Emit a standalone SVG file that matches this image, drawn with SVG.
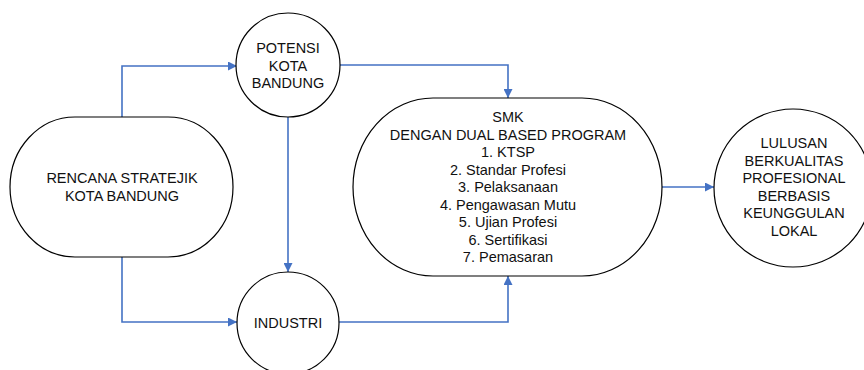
<svg xmlns="http://www.w3.org/2000/svg" width="864" height="370" viewBox="0 0 864 370">
<style>
.n{fill:#fff;stroke:#000;stroke-width:1.2}
.t{font-family:"Liberation Sans",Arial,sans-serif;font-size:14.5px;fill:#111;text-anchor:middle}
.c{fill:none;stroke:#4472C4;stroke-width:1.6}
</style>
<defs>
<marker id="ah" viewBox="0 0 10 10" refX="10" refY="5" markerWidth="9" markerHeight="9" markerUnits="userSpaceOnUse" orient="auto">
<path d="M0,0 L10,5 L0,10 Z" fill="#4472C4"/>
</marker>
</defs>
<rect width="864" height="370" fill="#fff"/>
<g id="connectors">
<path class="c" d="M122,117 V66 H237" marker-end="url(#ah)"/>
<path class="c" d="M339,65 H508 V98" marker-end="url(#ah)"/>
<path class="c" d="M288,117 V272" marker-end="url(#ah)"/>
<path class="c" d="M122,257 V322 H237" marker-end="url(#ah)"/>
<path class="c" d="M339,322 H508 V276" marker-end="url(#ah)"/>
<path class="c" d="M662,187 H714" marker-end="url(#ah)"/>
</g>
<g id="rencana">
<rect class="n" x="10" y="117" width="223" height="140" rx="65" ry="70"/>
<text class="t" x="122" y="183">RENCANA STRATEJIK</text>
<text class="t" x="122" y="200.5">KOTA BANDUNG</text>
</g>
<g id="potensi">
<circle class="n" cx="288" cy="65" r="52"/>
<text class="t" x="288" y="53">POTENSI</text>
<text class="t" x="288" y="70.5">KOTA</text>
<text class="t" x="288" y="88">BANDUNG</text>
</g>
<g id="industri">
<circle class="n" cx="288" cy="323" r="51"/>
<text class="t" x="288" y="328">INDUSTRI</text>
</g>
<g id="smk">
<rect class="n" x="353" y="98" width="309" height="178" rx="80" ry="89"/>
<text class="t" x="508" y="122">SMK</text>
<text class="t" x="508" y="139.5">DENGAN DUAL BASED PROGRAM</text>
<text class="t" x="508" y="157">1. KTSP</text>
<text class="t" x="508" y="174.5">2. Standar Profesi</text>
<text class="t" x="508" y="192">3. Pelaksanaan</text>
<text class="t" x="508" y="209.5">4. Pengawasan Mutu</text>
<text class="t" x="508" y="227">5. Ujian Profesi</text>
<text class="t" x="508" y="244.5">6. Sertifikasi</text>
<text class="t" x="508" y="262">7. Pemasaran</text>
</g>
<g id="lulusan">
<circle class="n" cx="793" cy="188" r="79"/>
<text class="t" x="794" y="148">LULUSAN</text>
<text class="t" x="794" y="165.5">BERKUALITAS</text>
<text class="t" x="794" y="183">PROFESIONAL</text>
<text class="t" x="794" y="200.5">BERBASIS</text>
<text class="t" x="794" y="218">KEUNGGULAN</text>
<text class="t" x="794" y="235.5">LOKAL</text>
</g>
</svg>
